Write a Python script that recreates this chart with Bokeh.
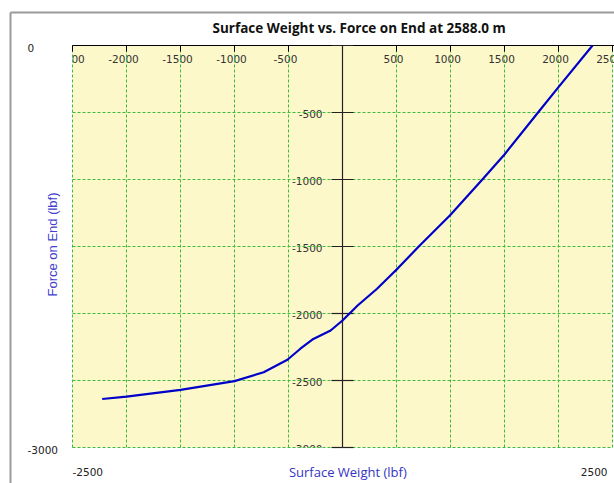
import math
from bokeh.plotting import figure
from bokeh.models import Label, ColumnDataSource, Range1d
from bokeh.core.properties import value
from bokeh.embed import file_html
from bokeh.resources import INLINE

# ---- data ----
title_text = "Surface Weight vs. Force on End at 2588.0 m"
x_label = "Surface Weight  (lbf)"
y_label = "Force on End (lbf)"

surface_weight = [-2225, -2000, -1500, -1000, -730, -510, -390, -270, -110,
                  0, 140, 320, 414, 510, 706, 994, 1293, 1500, 1818, 2000, 2315]
force_on_end = [-2638, -2620, -2570, -2505, -2438, -2345, -2263, -2190, -2127,
                -2052, -1940, -1815, -1741, -1665, -1500, -1269, -1002, -813, -493, -311, 0]

x_ticks = [-2500, -2000, -1500, -1000, -500, 500, 1000, 1500, 2000, 2500]
x_tick_labels = ["-2500", "-2000", "-1500", "-1000", "-500", "500", "1000", "1500", "2000", "2500"]
y_ticks = [-500, -1000, -1500, -2000, -2500, -3000]
y_tick_labels = ["-500", "-1000", "-1500", "-2000", "-2500", "-3000"]
grid_x = [-2500, -2000, -1500, -1000, -500, 0, 500, 1000, 1500, 2000, 2500]
grid_y = [0, -500, -1000, -1500, -2000, -2500, -3000]
x_min, x_max = -2500, 2500
y_min, y_max = -3000, 0

# ---- layout (page pixels) ----
W, H = 614, 483
FRAME_L, FRAME_T = 8, 10          # frame (drawing area) origin
BORDER_X, BORDER_Y = 10, 12       # grey chart border
PLOT_L, PLOT_R, PLOT_T, PLOT_B = 72, 612, 45, 447
ux = (x_max - x_min) / (PLOT_R - PLOT_L)   # data units per pixel
uy = (y_max - y_min) / (PLOT_B - PLOT_T)
x_start = x_min - (PLOT_L - FRAME_L) * ux
x_end = x_max + (W - PLOT_R) * ux
y_start = y_min - (H - PLOT_B) * uy
y_end = y_max + (PLOT_T - FRAME_T) * uy

TICK_FONT = "DejaVu Sans"
GRID_GREEN = "#3dbb3d"
BLUE = "#0000c8"
YELLOW = "#fdf8c9"

p = figure(width=W, height=H, output_backend="svg", toolbar_location=None,
           x_axis_location=None, y_axis_location=None,
           x_range=Range1d(x_start, x_end), y_range=Range1d(y_start, y_end),
           min_border_left=FRAME_L, min_border_top=FRAME_T,
           min_border_bottom=0, min_border_right=0)
p.grid.visible = False
p.background_fill_color = "white"
p.border_fill_color = "white"
p.outline_line_color = None

# grey chart border (left and top edges; the rest lies outside the window)
bx = x_min - (PLOT_L - BORDER_X) * ux
by = y_max + (PLOT_T - BORDER_Y) * uy
p.segment(x0=[bx, bx], y0=[by, by], x1=[bx, x_end], y1=[y_start, by],
          line_color="#9a9a9a", line_width=2)

# plot area background
p.quad(left=[x_min], right=[x_max], bottom=[y_min], top=[y_max],
       fill_color=YELLOW, line_color=None)

# inner tick labels
xs = ColumnDataSource(dict(x=x_ticks, y=[y_max] * len(x_ticks), t=x_tick_labels))
p.text(x="x", y="y", text="t", source=xs, text_font=value(TICK_FONT),
       text_font_size="10.5px", text_color="#333333", text_align="center",
       text_baseline="middle", x_offset=-3, y_offset=13)
ys = ColumnDataSource(dict(x=[0] * len(y_ticks), y=y_ticks, t=y_tick_labels))
p.text(x="x", y="y", text="t", source=ys, text_font=value(TICK_FONT),
       text_font_size="10.5px", text_color="#333333", text_align="right",
       text_baseline="middle", x_offset=-20, y_offset=1)

# white margins around the plot area (the plot area clips its own labels)
p.quad(left=[x_min - 30 * ux], right=[x_min], bottom=[y_min - 30 * uy], top=[y_max],
       fill_color="white", line_color=None)
p.quad(left=[x_min - 30 * ux], right=[x_max + 10 * ux], bottom=[y_min - 30 * uy], top=[y_min],
       fill_color="white", line_color=None)

# dashed green grid
p.segment(x0=grid_x, y0=[y_min] * len(grid_x), x1=grid_x, y1=[y_max] * len(grid_x),
          line_color=GRID_GREEN, line_dash="3 2", line_width=1)
p.segment(x0=[x_min] * len(grid_y), y0=grid_y, x1=[x_max] * len(grid_y), y1=grid_y,
          line_color=GRID_GREEN, line_dash="3 2", line_width=1)

# axes drawn inside the plot: top line with downward ticks, vertical line at x = 0
p.segment(x0=[x_min], y0=[y_max], x1=[x_end], y1=[y_max], line_color="black", line_width=1.2)
p.ray(x=grid_x, y=[y_max] * len(grid_x), length=6, length_units="screen",
      angle=-math.pi / 2, line_color="black", line_width=1)
p.segment(x0=[0], y0=[y_min], x1=[0], y1=[y_max], line_color="#222222", line_width=1.2)
p.ray(x=[0] * len(grid_y), y=grid_y, length=11, length_units="screen", angle=0,
      line_color="#222222", line_width=1.2)
p.ray(x=[0] * len(grid_y), y=grid_y, length=11, length_units="screen", angle=math.pi,
      line_color="#222222", line_width=1.2)

# curve
p.line(surface_weight, force_on_end, line_color=BLUE, line_width=2.2)

# outer labels
def lab(text, x, y, xo=0, yo=0, align="left", **kw):
    opts = dict(text_font=TICK_FONT, text_font_size="10.5px", text_color="#222222",
                text_baseline="middle")
    opts.update(kw)
    p.add_layout(Label(x=x, y=y, x_offset=xo, y_offset=yo, text=text,
                       text_align=align, **opts))

lab(str(y_max), x_min, y_max, xo=-45, yo=-2)
lab(str(y_min), x_min, y_min, xo=-45, yo=-2)
lab(str(x_min), x_min, y_min, xo=0, yo=-24)
lab(str(x_max), x_max, y_min, xo=-5, yo=-24, align="right")
lab(x_label, 0, y_min, xo=7, yo=-24, align="center", text_font="Open Sans",
    text_font_size="13px", text_color="#3434c4")
lab(y_label, x_min, (y_min + y_max) / 2, xo=-20, yo=2, align="center",
    text_font="Liberation Sans", text_font_size="13px", text_color="#4040cc",
    angle=math.pi / 2)
lab(title_text, x_min, y_max, xo=140, yo=18, align="left", text_font="Open Sans",
    text_font_size="13.5px", text_font_style="bold", text_color="#111111")

open("out.html", "w").write(file_html(p, INLINE))
